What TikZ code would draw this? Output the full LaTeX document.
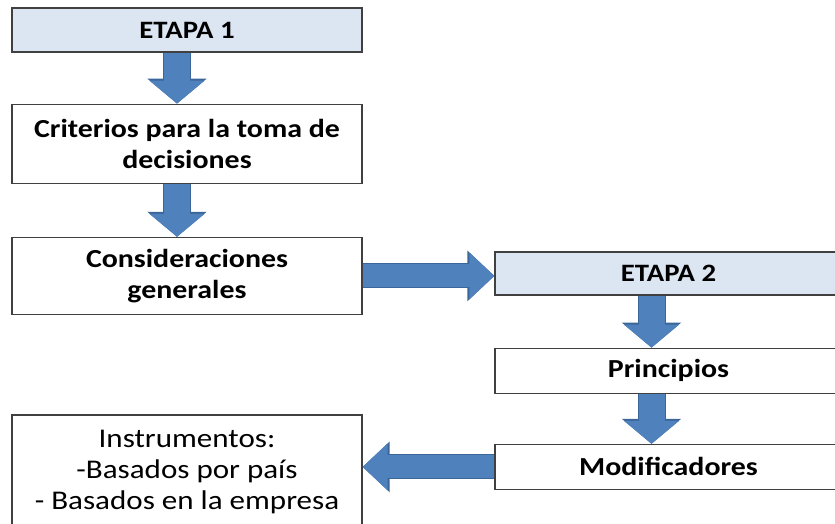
\documentclass[tikz,border=0pt]{standalone}
\usepackage{fontspec}
\setmainfont{Carlito}[FakeStretch=1.15]
\usepackage{tikz}
\usetikzlibrary{arrows.meta,positioning,calc}
\definecolor{EtapaFill}{HTML}{DCE6F2}
\definecolor{FlechaBlue}{HTML}{4F81BD}
\definecolor{FlechaEdge}{HTML}{3B6699}
\definecolor{BoxEdge}{HTML}{404040}

\begin{document}
\begin{tikzpicture}[x=1pt,y=-1pt,font=\bfseries\fontsize{26}{31}\selectfont,
  box/.style={draw=BoxEdge,line width=1.2pt,align=center,inner sep=0pt},
  etapa/.style={box,fill=EtapaFill,font=\bfseries\fontsize{25}{30}\selectfont},
  vflecha/.style={draw=FlechaBlue,line width=26pt,-{Triangle[length=23pt,width=54pt]},
    preaction={draw=FlechaEdge,line width=28pt,-{Triangle[length=25pt,width=58pt]}}},
  hflecha/.style={draw=FlechaBlue,line width=23pt,-{Triangle[length=25pt,width=45pt]},
    preaction={draw=FlechaEdge,line width=25pt,-{Triangle[length=27pt,width=49pt]}}}]
  \useasboundingbox (0,0) rectangle (835,523);
  % etapa 1
  \node[etapa,minimum width=350pt,minimum height=44pt] (e1) at (187,30) {ETAPA 1};
  \node[box,minimum width=350pt,minimum height=79pt,below=51pt of e1] (crit)
    {Criterios para la toma de\\decisiones};
  \node[box,minimum width=350pt,minimum height=77pt,below=53pt of crit] (cons)
    {Consideraciones\\generales};
  % etapa 2
  \node[etapa,minimum width=347pt,minimum height=43pt] (e2) at (668.5,273.5) {ETAPA 2};
  \node[box,minimum width=347pt,minimum height=45pt,below=52pt of e2] (prin) {Principios};
  \node[box,minimum width=347pt,minimum height=45pt,below=50pt of prin] (mod) {Modificadores};
  \node[box,minimum width=350pt,minimum height=115pt,font=\mdseries\fontsize{27}{31}\selectfont]
    (inst) at (187,472.5) {Instrumentos:\\-Basados por país\\- Basados en la empresa};
  % flechas
  \draw[vflecha] ([xshift=-10pt]e1.south) -- ([xshift=-10pt]crit.north);
  \draw[vflecha] ([xshift=-10pt]crit.south) -- ([xshift=-10pt]cons.north);
  \draw[hflecha] (cons.east) -- (cons.east -| e2.west);
  \draw[vflecha] ([xshift=-17pt]e2.south) -- ([xshift=-17pt]prin.north);
  \draw[vflecha] ([xshift=-17pt]prin.south) -- ([xshift=-17pt]mod.north);
  \draw[hflecha] (mod.west) -- (mod.west -| inst.east);
\end{tikzpicture}
\end{document}
